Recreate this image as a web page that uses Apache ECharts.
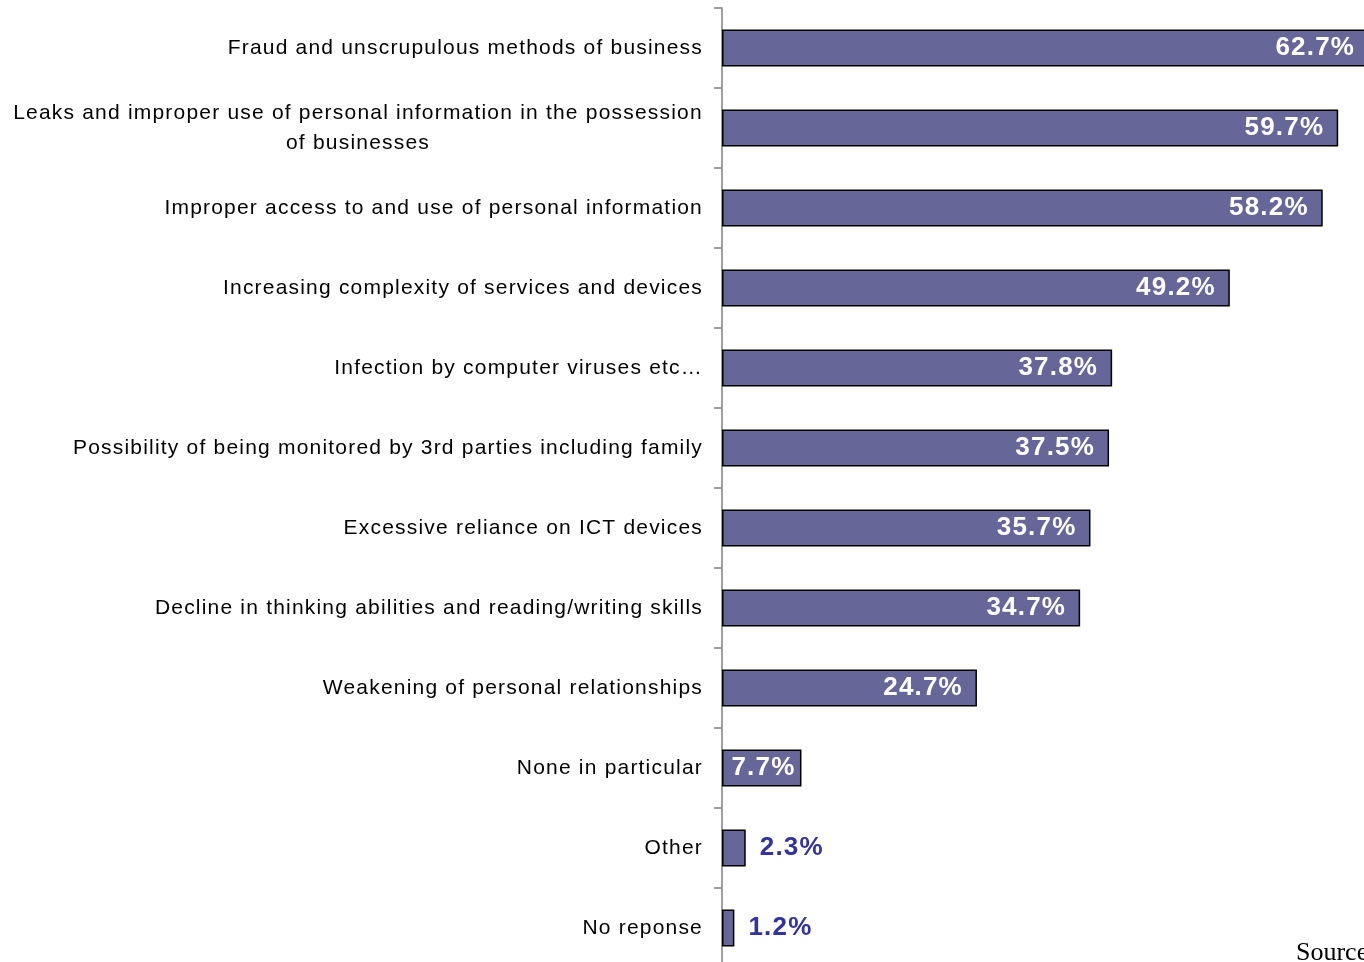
<!DOCTYPE html>
<html>
<head>
<meta charset="utf-8">
<script src="https://cdn.jsdelivr.net/npm/echarts@6/dist/echarts.min.js"></script>
<style>
html,body{margin:0;padding:0;background:#fff;overflow:hidden;width:1364px;height:962px;}
#chart{width:1364px;height:970px;}
</style>
</head>
<body>
<div id="chart"></div>
<script>
const categories = [
  "Fraud and unscrupulous methods of business",
  "Leaks and improper use of personal information in the possession\nof businesses",
  "Improper access to and use of personal information",
  "Increasing complexity of services and devices",
  "Infection by computer viruses etc…",
  "Possibility of being monitored by 3rd parties including family",
  "Excessive reliance on ICT devices",
  "Decline in thinking abilities and reading/writing skills",
  "Weakening of personal relationships",
  "None in particular",
  "Other",
  "No reponse"
];
const values = [62.7, 59.7, 58.2, 49.2, 37.8, 37.5, 35.7, 34.7, 24.7, 7.7, 2.3, 1.2];
const outsideThreshold = 5;

// slight tracking like the original document text
(function () {
  const proto = CanvasRenderingContext2D.prototype;
  const origFill = proto.fillText;
  proto.fillText = function () {
    if ('letterSpacing' in this) {
      this.letterSpacing = /serif/.test(this.font) && !/sans/i.test(this.font) ? '0px' : '1.2px';
    }
    return origFill.apply(this, arguments);
  };
})();

const chart = echarts.init(document.getElementById('chart'), null, {renderer: 'canvas'});

const data = values.map(v => {
  const inside = v >= outsideThreshold;
  return {
    value: v,
    label: inside ? {
      position: 'insideRight', distance: v < 10 ? 6 : 14, color: '#ffffff'
    } : {
      position: 'right', distance: 14, color: '#333399'
    }
  };
});

const catData = categories.map(c => {
  if (c.indexOf('\n') >= 0) {
    return {value: c, textStyle: {align: 'center', padding: [0, 690, 0, 0]}};
  }
  return c;
});

chart.setOption({
  animation: false,
  grid: {left: 722, top: 8, width: 642, height: 960, containLabel: false},
  xAxis: {
    type: 'value', min: 0, max: 62.2, show: false
  },
  yAxis: {
    type: 'category',
    inverse: true,
    data: catData,
    axisLine: {show: true, lineStyle: {color: '#808080', width: 1.5}},
    axisTick: {show: true, length: 8, lineStyle: {color: '#808080', width: 1.5}},
    axisLabel: {
      interval: 0,
      margin: 19,
      color: '#000',
      fontFamily: 'Liberation Sans, Arial, sans-serif',
      fontSize: 21,
      lineHeight: 30
    },
    splitLine: {show: false}
  },
  series: [{
    type: 'bar',
    data: data,
    barWidth: 37,
    clip: false,
    itemStyle: {color: '#666699', borderColor: '#000', borderWidth: 1.5},
    label: {
      show: true,
      formatter: p => p.value.toFixed(1) + '%',
      fontFamily: 'Liberation Sans, Arial, sans-serif',
      fontWeight: 'bold',
      fontSize: 26
    }
  }],
  graphic: [{
    type: 'text',
    left: 1296,
    top: 940,
    style: {
      text: 'Source:',
      font: '26px "Liberation Serif", "Times New Roman", serif',
      fill: '#000'
    }
  }]
});
</script>
</body>
</html>
